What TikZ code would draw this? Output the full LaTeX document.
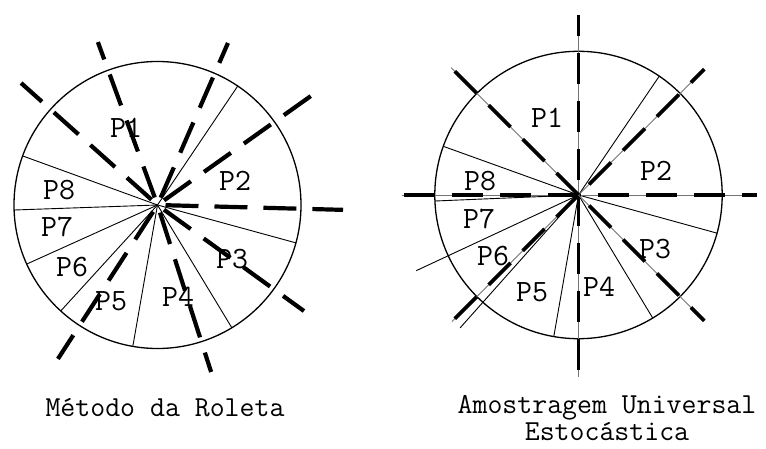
\documentclass[tikz,border=0pt]{standalone}
\usepackage{fontspec}
\begin{document}
\begin{tikzpicture}[x=1pt,y=1pt,
  wheel/.style={line width=1.3pt},
  boundary/.style={line width=0.9pt},
  lptr/.style={line width=4.2pt, dash pattern=on 33pt off 16pt, dash phase=41pt},
  rptr/.style={line width=3.8pt, dash pattern=on 31pt off 17pt},
  rguide/.style={line width=0.9pt, black!55},
  lbl/.style={font=\ttfamily\fontsize{31}{32}\selectfont, inner sep=0pt},
  capt/.style={font=\ttfamily\fontsize{29}{28}\selectfont, inner sep=0pt}
]
\useasboundingbox (0,0) rectangle (766,448);

% ---------- Left: Metodo da Roleta ----------
\coordinate (cL) at (157.5,243);
\draw[wheel] (cL) circle[radius=143.5pt];
\foreach \a in {56,160,182,204.3,227.6,260.1,301.2,344.7}
  \draw[boundary] (cL) -- ++(\a:143.5pt);
\foreach \a/\r in {138.2/183,110.1/173.5,66.5/176.7,35.4/188,-1.5/185.6,-35.9/180.8,-72.2/175.4,237.1/183.3}
  \draw[lptr] (cL) -- ++(\a:\r pt);

\node[lbl] (l1) at (126,320) {P1};
\node[lbl] (l2) at (235,267) {P2};
\node[lbl] (l3) at (232,189) {P3};
\node[lbl] (l4) at (178,151) {P4};
\node[lbl] (l5) at (111,147) {P5};
\node[lbl] (l6) at (72,181) {P6};
\node[lbl] (l7) at (57,221) {P7};
\node[lbl] (l8) at (59,258) {P8};

\node[capt, anchor=base] (capL) at (165,32) {Método da Roleta};

% ---------- Right: Amostragem Universal Estocastica ----------
\coordinate (cR) at (578.5,253);
\draw[wheel] (cR) circle[radius=143.7pt];
\foreach \a/\r in {55.8/143.7,160.2/143.7,182.4/143.7,205/179,228.3/178,260.1/143.7,301.1/143.7,344.6/143.7}
  \draw[boundary] (cR) -- ++(\a:\r pt);
\foreach \a/\r/\p in {0/178/29,45/178/33,90/180/33,135/180/0,180/177/0,225/179/0,270/182/0,315/178/33}
{
  \draw[rguide] (cR) -- ++(\a:\r pt);
  \draw[rptr, dash phase=\p pt] (cR) -- ++(\a:\r pt);
}

\node[lbl] (r1) at (547,330) {P1};
\node[lbl] (r2) at (656,277) {P2};
\node[lbl] (r3) at (655,199) {P3};
\node[lbl] (r4) at (599,161) {P4};
\node[lbl] (r5) at (532,156) {P5};
\node[lbl] (r6) at (493,192) {P6};
\node[lbl] (r7) at (479,229) {P7};
\node[lbl] (r8) at (480,267) {P8};

\node[capt, anchor=base] (capR1) at (607,35) {Amostragem Universal};
\node[capt, anchor=base] (capR2) at (607,8) {Estocástica};
\end{tikzpicture}
\end{document}
